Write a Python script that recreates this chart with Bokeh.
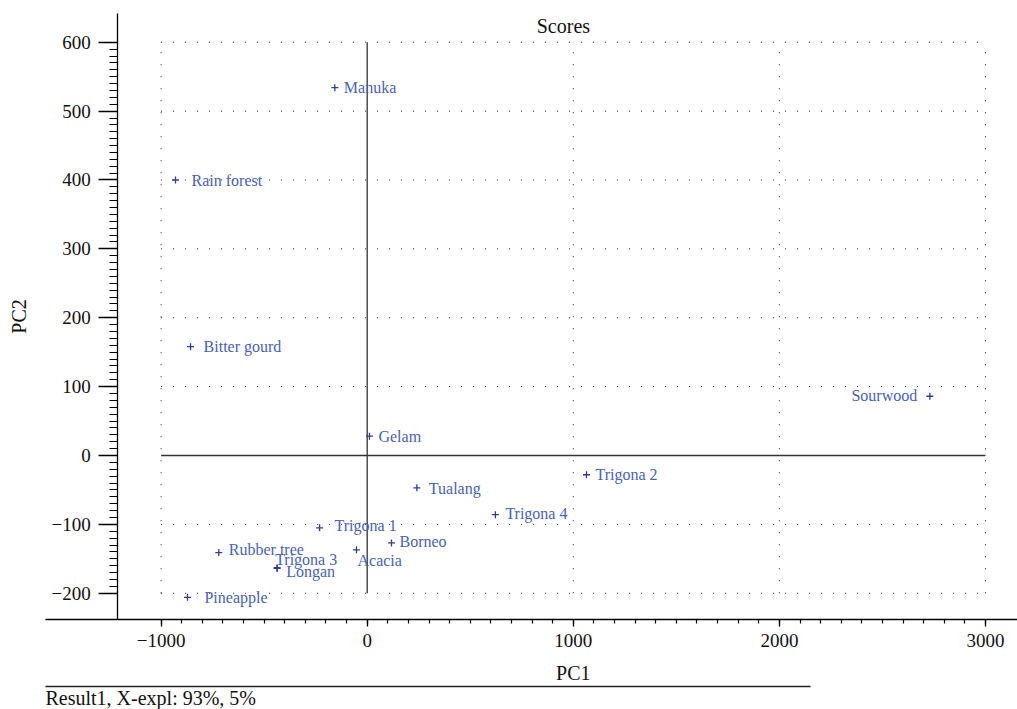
import numpy as np
from bokeh.plotting import figure
from bokeh.models import (Range1d, LinearAxis, FixedTicker, Label,
                          ColumnDataSource, CustomJSTickFormatter)
from bokeh.core.properties import value
from bokeh.embed import file_html
from bokeh.resources import INLINE

# ---------------- data ----------------
names = ["Manuka", "Rain forest", "Bitter gourd", "Gelam", "Sourwood",
         "Trigona 2", "Tualang", "Trigona 4", "Trigona 1", "Borneo",
         "Acacia", "Rubber tree", "Trigona 3", "Longan", "Pineapple"]
pc1 = [-157, -930, -857, 11, 2730, 1064, 241, 622, -231, 118,
       -52, -720, -437, -437, -872]
pc2 = [534, 400, 158, 28, 86, -28, -47, -86, -105, -127,
       -137, -141, -163, -164, -206]

x_ticks = [-1000, 0, 1000, 2000, 3000]
y_ticks = [-200, -100, 0, 100, 200, 300, 400, 500, 600]
x_minor_step = 100
y_minor_step = 10

title_text = "Scores"
x_label = "PC1"
y_label = "PC2"
footer_text = "Result1, X-expl: 93%, 5%"

# label placement relative to the marker (screen px, y down)
label_dx = [9, 16, 13, 9, -12.6, 9, 12, 10, 15, 8, 1, 10, -2, 9, 17]
label_dy = [0, 1, 0, 0, -1, 0, 0.6, -1, -2.7, -1, 11, -3, -8, 3, 0]
label_side = ["left"] * 4 + ["right"] + ["left"] * 10

# ---------------- styling ----------------
FONT = "Liberation Serif"
LABEL_BLUE = "#4a62b4"
MARK_BLUE = "#2c3f94"
W, H = 1017, 709
X0, X1 = -1779.2, 3155.3
Y0, Y1 = -368.8, 660.6
AX_LEFT = -1560.9      # left end of x axis line
Y_AXIS_AT = -1210.6    # x position of y axis line
X_AXIS_AT = -237.7     # y position of x axis line
Y_AXIS_TOP = 641.7
SEP_AT = -335.4
SEP_RIGHT = 2150.9

p = figure(width=W, height=H, x_range=Range1d(X0, X1), y_range=Range1d(Y0, Y1),
           output_backend="svg", toolbar_location=None, tools="",
           x_axis_type=None, y_axis_type=None, min_border=0)
p.outline_line_color = None
p.background_fill_color = "white"
p.border_fill_color = "white"

fmt = CustomJSTickFormatter(code="return tick < 0 ? '\\u2212' + Math.abs(tick) : '' + tick;")

xaxis = LinearAxis(
    fixed_location=X_AXIS_AT, bounds=(AX_LEFT, X1),
    ticker=FixedTicker(ticks=x_ticks,
                       minor_ticks=list(range(x_ticks[0], x_ticks[-1] + 1, x_minor_step))),
    formatter=fmt,
    axis_line_width=1.3, axis_line_color="black",
    major_tick_out=7, major_tick_in=0, minor_tick_out=4, minor_tick_in=0,
    major_tick_line_width=1.3, minor_tick_line_width=1.2,
    major_tick_line_color="black", minor_tick_line_color="black",
    major_label_standoff=8,
    major_label_text_font=FONT, major_label_text_font_size="19px",
    major_label_text_color="#111111")
p.add_layout(xaxis, "below")

yaxis = LinearAxis(
    fixed_location=Y_AXIS_AT, bounds=(X_AXIS_AT, Y_AXIS_TOP),
    ticker=FixedTicker(ticks=y_ticks,
                       minor_ticks=list(range(y_ticks[0], y_ticks[-1] + 1, y_minor_step))),
    formatter=fmt,
    axis_line_width=1.3, axis_line_color="black",
    major_tick_out=19, major_tick_in=0, minor_tick_out=8, minor_tick_in=0,
    major_tick_line_width=1.3, minor_tick_line_width=1.2,
    major_tick_line_color="black", minor_tick_line_color="black",
    major_label_standoff=8,
    major_label_text_font=FONT, major_label_text_font_size="19px",
    major_label_text_color="#111111",
    axis_label=y_label, axis_label_standoff=18,
    axis_label_text_font=FONT, axis_label_text_font_size="20px",
    axis_label_text_font_style="normal", axis_label_text_color="#111111")
p.add_layout(yaxis, "left")

sep = LinearAxis(
    fixed_location=SEP_AT, bounds=(AX_LEFT, SEP_RIGHT),
    ticker=FixedTicker(ticks=[]),
    axis_line_width=1.6, axis_line_color="#222222",
    major_tick_line_color=None, minor_tick_line_color=None,
    major_label_text_font_size="0px")
p.add_layout(sep, "below")

# ---------------- grid ----------------
gx = [t for t in x_ticks if t != 0]
p.segment(x0=gx, y0=[min(y_ticks)] * len(gx), x1=gx, y1=[max(y_ticks)] * len(gx),
          line_color="#222222", line_width=1, line_dash="1 11")
gy = [t for t in y_ticks if t != 0]
p.segment(x0=[min(x_ticks)] * len(gy), y0=gy, x1=[max(x_ticks)] * len(gy), y1=gy,
          line_color="#222222", line_width=1, line_dash="1 11")
p.segment(x0=[min(x_ticks), 0], y0=[0, min(y_ticks)],
          x1=[max(x_ticks), 0], y1=[0, max(y_ticks)],
          line_color="#333333", line_width=1.3)

# ---------------- points ----------------
p.scatter(pc1, pc2, marker="cross", size=7, line_color=MARK_BLUE, line_width=1.3)

for side in ("left", "right"):
    idx = [i for i, s in enumerate(label_side) if s == side]
    src = ColumnDataSource(dict(
        x=[pc1[i] for i in idx], y=[pc2[i] for i in idx],
        t=[names[i] for i in idx],
        dx=[label_dx[i] for i in idx], dy=[label_dy[i] for i in idx]))
    p.text(x="x", y="y", text="t", x_offset="dx", y_offset="dy", source=src,
           text_align=side, text_baseline="middle",
           text_font=value(FONT), text_font_size="16px", text_color=LABEL_BLUE)

# ---------------- texts ----------------
p.add_layout(Label(x=952, y=622.9, text=title_text, text_align="center",
                   text_baseline="middle", text_font=FONT, text_font_size="20px",
                   text_color="#111111"))
p.add_layout(Label(x=1000, y=-316.5, text=x_label, text_align="center",
                   text_baseline="middle", text_font=FONT, text_font_size="20px",
                   text_color="#111111"))
p.add_layout(Label(x=AX_LEFT, y=-352.1, text=footer_text, text_align="left",
                   text_baseline="middle", text_font=FONT, text_font_size="20px",
                   text_color="#111111"))

open("out.html", "w").write(file_html(p, INLINE))
